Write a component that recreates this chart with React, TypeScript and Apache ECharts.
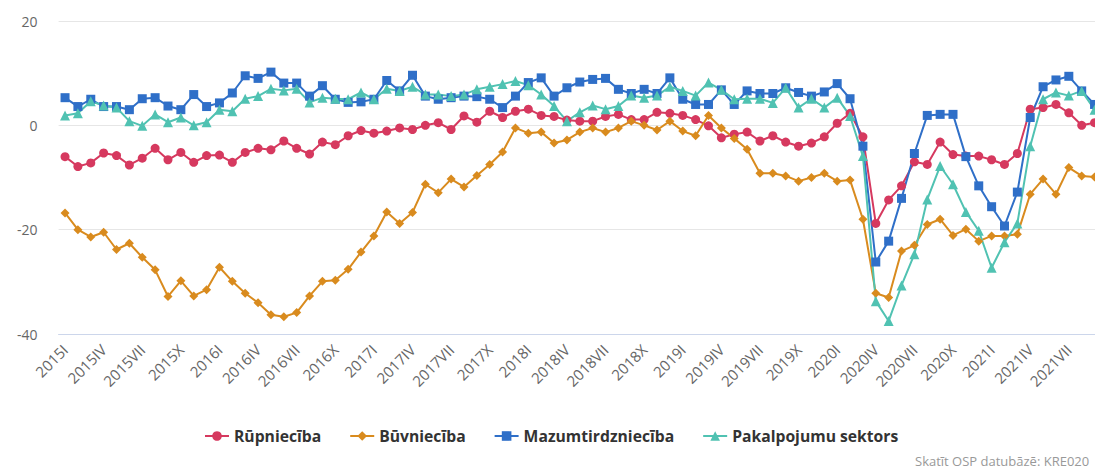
import React, { useEffect, useRef } from "react";
import * as echarts from "echarts";

const years = [2015, 2016, 2017, 2018, 2019, 2020, 2021];
const romanMonths = ["I", "II", "III", "IV", "V", "VI", "VII", "VIII", "IX", "X", "XI", "XII"];
const lastYearMonths = 9;

const categories: string[] = [];
years.forEach((y) => {
  const n = y === 2021 ? lastYearMonths : 12;
  for (let m = 0; m < n; m++) categories.push(`${y}${romanMonths[m]}`);
});

const rupnieciba = [
  -6.0, -7.9, -7.2, -5.3, -5.8, -7.6, -6.3, -4.4, -6.6, -5.2, -7.1, -5.8,
  -5.7, -7.1, -5.2, -4.4, -4.7, -3.0, -4.4, -5.5, -3.2, -3.7, -2.0, -1.0,
  -1.5, -1.1, -0.5, -0.8, 0.0, 0.5, -0.8, 1.8, 0.6, 2.7, 1.5, 2.7,
  3.1, 1.9, 1.7, 1.0, 0.8, 0.8, 1.7, 2.1, 1.1, 1.1, 2.5, 2.3,
  1.9, 1.1, -0.1, -2.4, -1.7, -1.3, -3.0, -2.0, -3.2, -4.0, -3.4, -2.2,
  0.4, 2.3, -2.2, -18.8, -14.3, -11.6, -7.0, -7.5, -3.2, -5.6, -5.9, -5.9,
  -6.6, -7.5, -5.4, 3.1, 3.4, 4.0, 2.4, 0.0, 0.5,
];

const buvnieciba = [
  -16.8, -20.0, -21.4, -20.5, -23.8, -22.6, -25.3, -27.7, -32.8, -29.8, -32.7, -31.5,
  -27.2, -29.9, -32.2, -34.0, -36.3, -36.7, -35.9, -32.7, -29.9, -29.7, -27.6, -24.3,
  -21.2, -16.6, -18.8, -16.7, -11.3, -12.9, -10.3, -11.8, -9.6, -7.5, -5.1, -0.5,
  -1.5, -1.3, -3.4, -2.8, -1.3, -0.5, -1.3, -0.5, 0.8, 0.0, -0.9, 0.8,
  -1.1, -2.0, 1.9, -0.5, -2.5, -4.6, -9.2, -9.2, -9.7, -10.7, -10.0, -9.2,
  -10.7, -10.5, -18.0, -32.2, -33.0, -24.1, -23.0, -19.0, -18.0, -21.1, -19.9, -22.2,
  -21.2, -21.2, -20.9, -13.2, -10.3, -13.2, -8.1, -9.7, -9.9,
];

const mazumtirdznieciba = [
  5.3, 3.6, 5.0, 3.6, 3.6, 3.0, 5.1, 5.3, 3.7, 3.0, 5.9, 3.6,
  4.3, 6.2, 9.5, 9.0, 10.2, 8.1, 8.1, 5.6, 7.6, 5.0, 4.4, 4.5,
  5.0, 8.6, 6.6, 9.6, 5.6, 5.0, 5.3, 5.6, 5.5, 5.0, 3.4, 5.6,
  8.2, 9.1, 5.6, 7.2, 8.3, 8.8, 9.0, 6.9, 6.1, 6.9, 6.1, 9.1,
  5.0, 4.0, 4.0, 6.8, 4.0, 6.6, 6.1, 6.1, 7.2, 6.3, 5.6, 6.4,
  8.0, 5.1, -4.0, -26.2, -22.2, -14.0, -5.4, 1.9, 2.1, 2.1, -6.0, -11.6,
  -15.6, -19.3, -12.8, 1.5, 7.4, 8.7, 9.4, 6.6, 4.0,
];

const pakalpojumi = [
  1.9, 2.3, 4.6, 3.8, 3.4, 0.8, -0.1, 2.1, 0.6, 1.5, 0.0, 0.6,
  3.0, 2.7, 5.1, 5.6, 7.0, 6.7, 7.0, 4.4, 5.3, 5.1, 5.0, 6.3,
  5.0, 7.0, 6.6, 7.4, 5.9, 5.9, 5.6, 5.9, 6.9, 7.4, 7.9, 8.5,
  7.7, 5.9, 3.7, 0.8, 2.5, 3.8, 3.1, 3.7, 5.7, 5.3, 5.7, 7.4,
  6.6, 5.7, 8.2, 6.8, 5.0, 5.1, 5.1, 4.3, 7.2, 3.4, 5.1, 3.4,
  5.3, 1.8, -5.9, -33.7, -37.5, -30.7, -24.7, -14.2, -7.8, -11.3, -16.6, -20.2,
  -27.3, -22.4, -18.8, -4.0, 5.0, 6.3, 5.7, 6.6, 3.0,
];

const seriesNames = ["Rūpniecība", "Būvniecība", "Mazumtirdzniecība", "Pakalpojumu sektors"];
const seriesColors = ["#d6395f", "#d98b1e", "#2f6fc8", "#50c2b2"];
const seriesSymbols = ["circle", "diamond", "rect", "triangle"];
const seriesData = [rupnieciba, buvnieciba, mazumtirdznieciba, pakalpojumi];

const yTicks = { min: -40, max: 20, interval: 20 };
const creditText = "Skatīt OSP datubāzē: KRE020";

const FONT = "'Open Sans', 'DejaVu Sans', sans-serif";

export default function App() {
  const ref = useRef<HTMLDivElement>(null);

  useEffect(() => {
    if (!ref.current) return;
    const chart = echarts.init(ref.current, undefined, { renderer: "svg" });
    chart.setOption({
      animation: false,
      textStyle: { fontFamily: FONT },
      grid: { left: 58.6, right: 9, top: 21, bottom: 136, containLabel: false },
      xAxis: {
        type: "category",
        data: categories,
        boundaryGap: true,
        axisLine: { onZero: false, lineStyle: { color: "#ccd6eb", width: 1 } },
        axisTick: { show: false },
        axisLabel: {
          interval: 2,
          rotate: 45,
          color: "#666666",
          fontSize: 15,
          margin: 13,
          fontFamily: FONT,
        },
        splitLine: { show: false },
      },
      yAxis: {
        type: "value",
        min: yTicks.min,
        max: yTicks.max,
        interval: yTicks.interval,
        axisLine: { show: false },
        axisTick: { show: false },
        axisLabel: { color: "#666666", fontSize: 14, margin: 21, fontFamily: FONT },
        splitLine: { lineStyle: { color: "#e6e6e6", width: 1 } },
      },
      legend: {
        top: 423,
        left: 199,
        itemWidth: 24,
        itemHeight: 12,
        itemGap: 28,
        textStyle: { color: "#333333", fontSize: 15.7, fontWeight: "bold", fontFamily: FONT },
        data: seriesNames,
      },
      graphic: [
        {
          type: "text",
          left: 915,
          top: 454,
          style: { text: creditText, fill: "#999999", fontSize: 13, fontFamily: FONT },
        },
      ],
      series: seriesNames.map((name, i) => ({
        name,
        type: "line",
        data: seriesData[i],
        symbol: seriesSymbols[i],
        symbolSize: i === 3 ? 10 : 9,
        showAllSymbol: true,
        lineStyle: { width: 2, color: seriesColors[i] },
        itemStyle: { color: seriesColors[i] },
        emphasis: { disabled: true },
      })),
    });
    return () => chart.dispose();
  }, []);

  return (
    <div
      style={{
        position: "absolute",
        left: 0,
        top: 0,
        width: 1095,
        height: 470,
        overflow: "hidden",
        background: "#ffffff",
      }}
    >
      <div ref={ref} style={{ width: 1110, height: 470 }} />
    </div>
  );
}
